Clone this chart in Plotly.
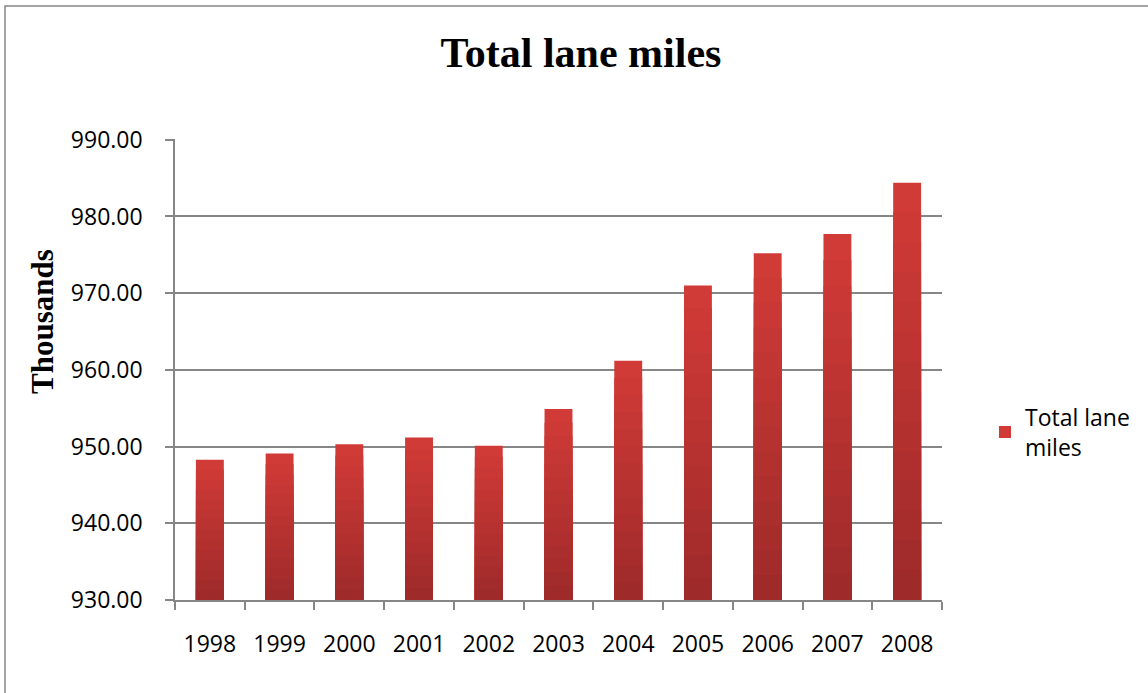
import plotly.graph_objects as go

years = ["1998", "1999", "2000", "2001", "2002", "2003", "2004", "2005", "2006", "2007", "2008"]
lane_miles = [948.3, 949.1, 950.3, 951.2, 950.1, 954.9, 961.2, 971.0, 975.2, 977.7, 984.4]
series_name = "Total lane<br>miles"
y_min, y_max, y_step = 930, 990, 10

top_rgb = (209, 59, 55)
bot_rgb = (158, 42, 42)
N = 14

fig = go.Figure()
for k in range(N):
    frac = 1 - k / N
    t = k / (N - 1)
    c = tuple(round(top_rgb[i] + (bot_rgb[i] - top_rgb[i]) * t) for i in range(3))
    ys = [y_min + (v - y_min) * frac for v in lane_miles]
    fig.add_trace(go.Bar(
        x=years, y=ys,
        name=series_name,
        showlegend=(k == 0),
        marker=dict(color="rgb(%d,%d,%d)" % c, line=dict(width=0)),
        width=0.4,
        hoverinfo="skip" if k else None,
    ))

W, H = 1148, 693
L, R, T, B = 175, 0, 139, 93
pw, ph = W - L - R, H - T - B
plot_right = 942

fig.update_layout(
    barmode="overlay",
    width=W, height=H,
    paper_bgcolor="white", plot_bgcolor="white",
    margin=dict(l=L, r=R, t=T, b=B),
    title=dict(text="<b>Total lane miles</b>", x=581 / W, xanchor="center",
               y=1 - 52 / H, yanchor="middle",
               font=dict(family="Liberation Serif", size=42, color="black")),
    font=dict(family="Open Sans", size=23, color="black"),
    legend=dict(x=(985 - L) / pw, y=(H - B - 432) / ph, xanchor="left", yanchor="middle",
                font=dict(family="Open Sans", size=23, color="black"),
                bgcolor="rgba(0,0,0,0)", itemclick=False),
    xaxis=dict(
        type="category",
        domain=[0, (plot_right - L) / pw],
        showline=True, linecolor="#868686", linewidth=1.5,
        ticks="outside", tickson="boundaries", ticklen=8, tickcolor="#868686", tickwidth=1.5,
        showgrid=False, tickfont=dict(family="Open Sans", size=23),
        ticklabelstandoff=23,
    ),
    yaxis=dict(
        range=[y_min, y_max + 0.1], dtick=y_step, tick0=y_min, tickformat=".2f",
        showline=True, linecolor="#868686", linewidth=1.5,
        ticks="outside", ticklen=8, tickcolor="#868686", tickwidth=1.5,
        showgrid=True, gridcolor="#868686", gridwidth=1.5,
        tickfont=dict(family="Open Sans", size=23),
        ticklabelstandoff=18,
    ),
    annotations=[dict(text="<b>Thousands</b>", textangle=-90, showarrow=False,
                      xref="paper", yref="paper",
                      x=(42 - L) / pw, y=(H - B - 322) / ph,
                      xanchor="center", yanchor="middle",
                      font=dict(family="Liberation Serif", size=31, color="black"))],
    shapes=[dict(type="rect", xref="paper", yref="paper",
                 x0=(5 - L) / pw, x1=1.5, y0=-1, y1=(H - B - 6) / ph,
                 line=dict(color="#868686", width=1.5), fillcolor="rgba(0,0,0,0)",
                 layer="below")],
)

fig.write_html("out.html")
